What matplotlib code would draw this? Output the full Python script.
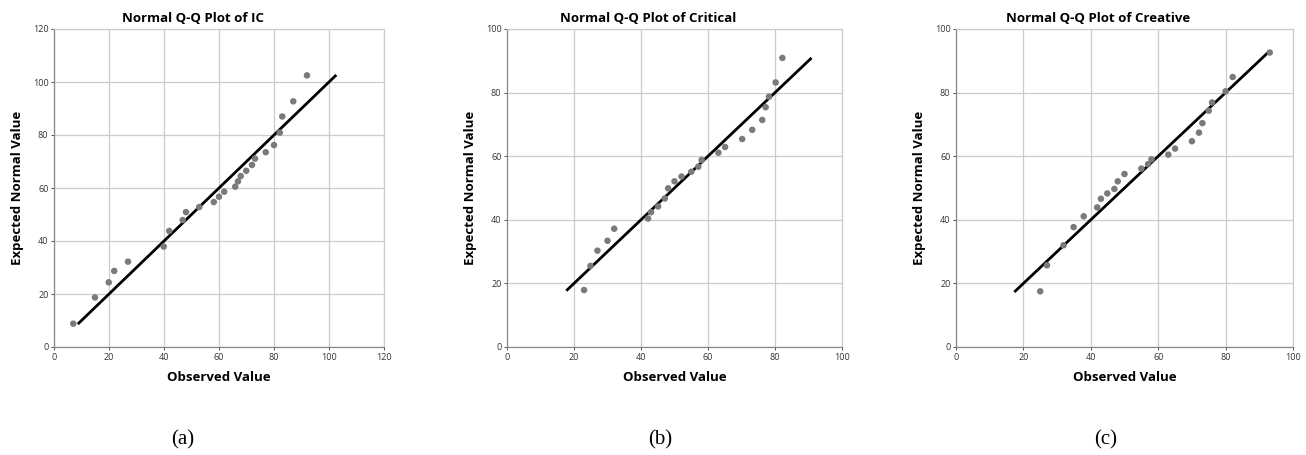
import matplotlib.pyplot as plt
import numpy as np

# panel (a) IC
ic_obs = [7.0, 14.9, 19.9, 21.9, 26.9, 39.9, 41.9, 46.8, 48.0, 52.8, 58.1, 60.0, 61.9,
          65.9, 66.9, 67.9, 69.9, 72.0, 73.1, 77.0, 80.0, 82.1, 83.0, 87.0, 92.0]
ic_exp = [8.8, 18.7, 24.4, 28.7, 32.2, 37.9, 43.8, 47.9, 50.9, 52.8, 54.7, 56.7, 58.6,
          60.5, 62.5, 64.5, 66.5, 68.7, 71.1, 73.5, 76.2, 80.9, 87.0, 92.7, 102.5]
ic_line = [9.0, 102.3]

# panel (b) Critical
cr_obs = [23.0, 24.9, 27.0, 30.0, 32.0, 42.1, 43.0, 45.1, 47.1, 48.1, 50.0, 52.1,
          55.0, 57.1, 58.1, 63.1, 65.1, 70.2, 73.2, 76.2, 77.2, 78.2, 80.2, 82.2]
cr_exp = [17.9, 25.5, 30.3, 33.4, 37.2, 40.4, 42.4, 44.2, 46.7, 49.9, 52.1, 53.6,
          55.1, 56.7, 58.8, 61.1, 62.9, 65.4, 68.3, 71.4, 75.4, 78.7, 83.2, 90.9]
cr_line = [18.0, 90.6]

# panel (c) Creative
cv_obs = [25.0, 27.0, 31.9, 34.9, 37.9, 41.9, 43.0, 44.9, 47.0, 48.0, 50.0, 55.0,
          57.0, 58.0, 63.0, 65.0, 70.0, 72.1, 73.1, 75.0, 76.0, 80.0, 82.1, 93.1]
cv_exp = [17.5, 25.7, 32.0, 37.7, 41.1, 43.9, 46.6, 48.3, 49.7, 52.1, 54.4, 56.1,
          57.5, 59.0, 60.5, 62.4, 64.7, 67.4, 70.4, 74.3, 76.9, 80.4, 84.9, 92.6]
cv_line = [17.6, 92.5]

panels = [
    ("Normal Q-Q Plot of IC", ic_obs, ic_exp, ic_line, 120, "(a)"),
    ("Normal Q-Q Plot of Critical", cr_obs, cr_exp, cr_line, 100, "(b)"),
    ("Normal Q-Q Plot of Creative", cv_obs, cv_exp, cv_line, 100, "(c)"),
]
# axes boxes in pixels: left, right
boxes = [(54, 384), (507, 842), (956, 1293)]
title_x = [193, 648, 1098]
caption_x = [183, 660, 1106]

W, H = 1306, 455
fig = plt.figure(figsize=(W / 100, H / 100), dpi=100)
plt.rcParams['font.family'] = ['Open Sans', 'DejaVu Sans']

for (title, xo, ye, ln, top, cap), (l, r), tx, cx in zip(panels, boxes, title_x, caption_x):
    ax = fig.add_axes([l / W, (H - 347) / H, (r - l) / W, 318 / H])
    ax.set_xlim(0, top)
    ax.set_ylim(0, top)
    ticks = np.arange(0, top + 1, 20)
    ax.set_xticks(ticks)
    ax.set_yticks(ticks)
    ax.grid(True, color='#cccccc', linewidth=0.9)
    ax.set_axisbelow(True)
    ax.tick_params(labelsize=6.5, colors='#333333', length=2, width=0.6, pad=2)
    for s in ['top', 'right']:
        ax.spines[s].set_color('#cccccc')
        ax.spines[s].set_linewidth(0.9)
    for s in ['left', 'bottom']:
        ax.spines[s].set_color('#888888')
        ax.spines[s].set_linewidth(0.9)
    ax.plot(ln, ln, color='black', linewidth=2, zorder=2)
    ax.scatter(xo, ye, s=22, color='#7a7a7a', edgecolors='none', zorder=3)
    t = ax.set_title(title, fontsize=9.5, fontweight='bold', pad=5)
    t.set_x((tx - l) / (r - l))
    ax.set_xlabel("Observed Value", fontsize=9.5, fontweight='bold', labelpad=7)
    ax.set_ylabel("Expected Normal Value", fontsize=9.5, fontweight='bold', labelpad=6)
    fig.text(cx / W, 1 - 440 / H, cap, ha='center', va='center',
             fontsize=15, family='Liberation Serif')

fig.savefig("out.png", dpi=100, facecolor='white')
